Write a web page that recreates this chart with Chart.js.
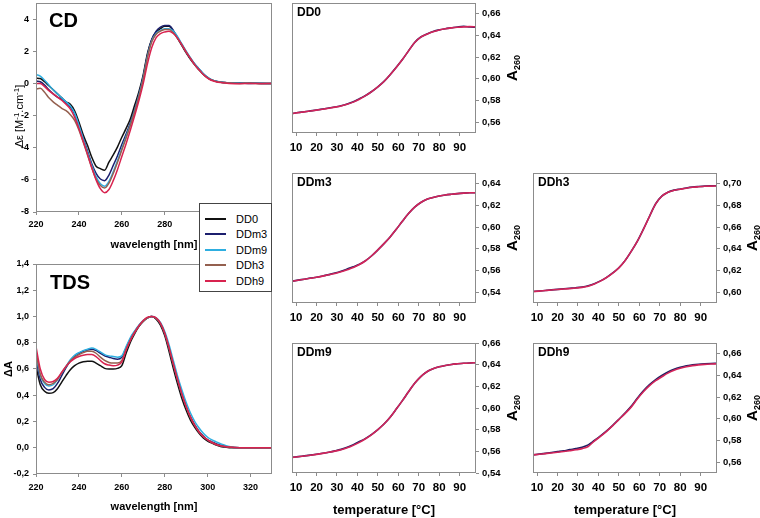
<!DOCTYPE html>
<html>
<head>
<meta charset="utf-8">
<script src="https://cdn.jsdelivr.net/npm/chart.js@4.4.1/dist/chart.umd.min.js"></script>
<style>
  body { margin: 0; background: #fff; }
  #fig { position: relative; width: 760px; height: 518px; overflow: hidden; font-family: "Liberation Sans", Arial, sans-serif; color: #000; }
  #fig canvas { position: absolute; }
  .vlab { position: absolute; transform: translate(-50%, -50%) rotate(-90deg); white-space: nowrap; color: #000; }
  .vlab sup { font-size: 8px; vertical-align: 4px; }
  .a260 { font-weight: bold; font-size: 15px; }
  .a260 sub { font-size: 9px; vertical-align: -3px; }
  #legend { position: absolute; left: 199px; top: 203px; width: 73px; height: 89px; border: 1px solid #444; background: #fff; padding-top: 7px; box-sizing: border-box; }
  #legend .row { height: 15.5px; display: flex; align-items: center; font-size: 11px; color: #000; }
  #legend .ln { width: 21px; height: 2px; margin: 0 10px 0 5px; }
</style>
</head>
<body>
<div id="fig">
  <canvas id="cd" style="left:0;top:0" width="276" height="252"></canvas>
  <canvas id="tds" style="left:0;top:252px" width="276" height="266"></canvas>
  <canvas id="mDD0" style="left:284px;top:0" width="236" height="155"></canvas>
  <canvas id="mDDm3" style="left:284px;top:165px" width="236" height="160"></canvas>
  <canvas id="mDDm9" style="left:284px;top:335px" width="236" height="183"></canvas>
  <canvas id="mDDh3" style="left:525px;top:165px" width="235" height="160"></canvas>
  <canvas id="mDDh9" style="left:525px;top:335px" width="235" height="183"></canvas>

  <div class="vlab" style="left:18px;top:116px;font-size:11px">Δε [M<sup>-1</sup>.cm<sup>-1</sup>]</div>
  <div class="vlab" style="left:8px;top:369px;font-size:11px;font-weight:bold">ΔA</div>
  <div class="vlab a260" style="left:512px;top:68px">A<sub>260</sub></div>
  <div class="vlab a260" style="left:512px;top:238px">A<sub>260</sub></div>
  <div class="vlab a260" style="left:512px;top:408px">A<sub>260</sub></div>
  <div class="vlab a260" style="left:752px;top:238px">A<sub>260</sub></div>
  <div class="vlab a260" style="left:752px;top:408px">A<sub>260</sub></div>

  <div id="legend"></div>
</div>

<script>
// ---- data ----
const seriesNames = ["DD0", "DDm3", "DDm9", "DDh3", "DDh9"];
const seriesColors = ["#111111", "#1c1f6e", "#2eaee0", "#94604f", "#d8234f"];

const wavelength = [
  220,222,224,226,228,230,232,234,236,238,
  240,242,244,246,248,250,252,254,256,258,
  260,262,264,266,268,270,272,274,276,278,
  280,282,284,286,288,290,292,294,296,298,
  300,302,304,306,308,310,315,320,325,330
];

// CD spectra, delta epsilon
const cdDD0 = [
  0.33,0.30,0.10,-0.15,-0.40,-0.65,-0.90,-1.15,-1.30,-1.70,
  -2.40,-3.20,-3.85,-4.60,-5.15,-5.30,-5.40,-4.90,-4.45,-3.95,
  -3.35,-2.80,-2.20,-1.35,-0.50,0.55,1.90,2.75,3.20,3.40,
  3.55,3.55,3.25,2.80,2.35,1.90,1.50,1.15,0.85,0.55,
  0.35,0.20,0.12,0.07,0.05,0.02,0.01,0.02,-0.01,0.00
];
const cdDDm3 = [
  0.15,0.10,-0.10,-0.40,-0.65,-0.85,-1.00,-1.20,-1.45,-1.90,
  -2.60,-3.40,-4.20,-5.00,-5.60,-5.95,-6.05,-5.70,-5.10,-4.50,
  -3.80,-3.15,-2.45,-1.60,-0.65,0.45,1.80,2.75,3.25,3.50,
  3.60,3.60,3.30,2.85,2.40,1.95,1.55,1.20,0.90,0.60,
  0.38,0.22,0.14,0.08,0.05,0.03,0.02,0.00,0.01,-0.01
];
const cdDDm9 = [
  0.55,0.45,0.20,-0.10,-0.40,-0.65,-0.90,-1.15,-1.40,-1.85,
  -2.60,-3.45,-4.30,-5.10,-5.80,-6.25,-6.40,-6.10,-5.50,-4.80,
  -4.05,-3.30,-2.55,-1.70,-0.75,0.35,1.70,2.65,3.10,3.30,
  3.40,3.40,3.25,2.90,2.45,2.00,1.60,1.20,0.90,0.60,
  0.38,0.22,0.13,0.08,0.04,0.02,0.01,0.01,0.00,0.00
];
const cdDDh3 = [
  -0.35,-0.30,-0.55,-0.90,-1.15,-1.35,-1.55,-1.70,-1.95,-2.30,
  -2.90,-3.65,-4.45,-5.25,-5.95,-6.35,-6.50,-6.20,-5.60,-4.90,
  -4.15,-3.40,-2.60,-1.75,-0.80,0.30,1.65,2.60,3.05,3.25,
  3.35,3.35,3.15,2.80,2.40,1.95,1.55,1.15,0.85,0.55,
  0.35,0.20,0.12,0.07,0.04,0.02,0.00,0.01,-0.01,0.00
];
const cdDDh9 = [
  0.00,0.00,-0.20,-0.45,-0.65,-0.85,-1.05,-1.30,-1.60,-2.10,
  -2.80,-3.60,-4.40,-5.25,-6.00,-6.55,-6.80,-6.60,-6.05,-5.35,
  -4.55,-3.75,-2.90,-2.00,-1.05,0.00,1.25,2.25,2.85,3.10,
  3.20,3.25,3.10,2.80,2.40,1.95,1.55,1.15,0.85,0.55,
  0.33,0.18,0.10,0.05,0.02,0.00,-0.02,0.00,-0.02,-0.01
];

// TDS, normalized delta A
const tdsDD0 = [
  0.62,0.48,0.43,0.415,0.42,0.45,0.50,0.55,0.595,0.625,
  0.645,0.655,0.66,0.66,0.645,0.625,0.605,0.60,0.60,0.605,
  0.625,0.72,0.805,0.87,0.925,0.965,0.99,1.00,0.98,0.935,
  0.855,0.735,0.605,0.485,0.375,0.285,0.21,0.155,0.11,0.075,
  0.05,0.035,0.02,0.01,0.005,0.00,0.00,0.00,0.00,0.00
];
const tdsDDm3 = [
  0.68,0.52,0.46,0.44,0.45,0.49,0.55,0.61,0.66,0.70,
  0.72,0.735,0.745,0.75,0.74,0.72,0.70,0.69,0.68,0.675,
  0.69,0.76,0.83,0.885,0.93,0.965,0.99,1.00,0.985,0.945,
  0.87,0.76,0.635,0.515,0.405,0.315,0.235,0.175,0.125,0.09,
  0.06,0.045,0.03,0.02,0.01,0.005,0.00,0.00,0.00,0.00
];
const tdsDDm9 = [
  0.71,0.55,0.49,0.47,0.48,0.52,0.57,0.62,0.67,0.705,
  0.725,0.74,0.75,0.76,0.75,0.73,0.71,0.70,0.695,0.69,
  0.70,0.77,0.84,0.89,0.935,0.97,0.99,1.00,0.99,0.955,
  0.885,0.785,0.665,0.545,0.44,0.345,0.265,0.20,0.15,0.11,
  0.08,0.06,0.045,0.03,0.02,0.01,0.00,0.00,0.00,0.00
];
const tdsDDh3 = [
  0.73,0.56,0.50,0.48,0.49,0.52,0.57,0.62,0.66,0.69,
  0.71,0.725,0.735,0.735,0.72,0.69,0.665,0.65,0.645,0.645,
  0.665,0.75,0.82,0.88,0.93,0.965,0.99,1.00,0.985,0.945,
  0.87,0.76,0.635,0.515,0.405,0.31,0.23,0.17,0.12,0.085,
  0.06,0.04,0.025,0.015,0.01,0.005,0.00,0.00,0.00,0.00
];
const tdsDDh9 = [
  0.77,0.60,0.52,0.50,0.505,0.53,0.575,0.62,0.655,0.68,
  0.695,0.705,0.71,0.71,0.695,0.665,0.64,0.63,0.625,0.63,
  0.655,0.745,0.82,0.88,0.93,0.97,0.995,1.00,0.99,0.95,
  0.875,0.765,0.64,0.52,0.41,0.315,0.235,0.17,0.12,0.085,
  0.06,0.04,0.025,0.015,0.01,0.005,0.00,0.00,0.00,0.00
];

// melting curves, A260 vs temperature
const temperature = [
  8,11,14,17,20,23,26,29,32,35,
  38,41,44,47,50,53,56,59,62,65,
  68,71,74,77,80,83,86,89,92,95,
  98
];
const meltDD0Blue = [
  .5680,.5689,.5696,.5704,.5712,.5721,.5730,.5740,.5751,.5767,
  .5788,.5817,.5846,.5883,.5926,.5976,.6038,.6106,.6178,.6258,
  .6336,.6386,.6413,.6436,.6452,.6463,.6471,.6479,.6484,.6478,
  .6476
];
const meltDD0Red = [
  .5680,.5688,.5695,.5703,.5711,.5720,.5729,.5739,.5750,.5765,
  .5785,.5812,.5845,.5882,.5925,.5975,.6038,.6105,.6178,.6258,
  .6335,.6385,.6412,.6434,.6450,.6462,.6470,.6476,.6480,.6482,
  .6480
];
const meltDDm3Blue = [
  .5501,.5511,.5520,.5530,.5538,.5549,.5562,.5576,.5593,.5614,
  .5634,.5658,.5691,.5736,.5790,.5848,.5910,.5980,.6055,.6126,
  .6185,.6228,.6257,.6274,.6287,.6297,.6304,.6310,.6314,.6317,
  .6318
];
const meltDDm3Red = [
  .5501,.5510,.5519,.5528,.5537,.5548,.5560,.5573,.5588,.5607,
  .5628,.5655,.5690,.5736,.5790,.5848,.5910,.5980,.6055,.6126,
  .6185,.6228,.6257,.6274,.6287,.6297,.6304,.6310,.6314,.6317,
  .6318
];
const meltDDm9Blue = [
  .5544,.5551,.5558,.5565,.5573,.5582,.5592,.5604,.5618,.5637,
  .5662,.5690,.5720,.5757,.5801,.5852,.5915,.5990,.6068,.6150,
  .6228,.6290,.6335,.6362,.6380,.6393,.6402,.6408,.6413,.6416,
  .6418
];
const meltDDm9Red = [
  .5544,.5550,.5557,.5564,.5572,.5581,.5591,.5602,.5615,.5632,
  .5655,.5683,.5716,.5755,.5800,.5852,.5915,.5990,.6068,.6150,
  .6228,.6290,.6335,.6362,.6380,.6393,.6402,.6408,.6413,.6416,
  .6418
];
const meltDDh3Blue = [
  .6006,.6011,.6016,.6021,.6026,.6031,.6036,.6041,.6048,.6060,
  .6078,.6104,.6136,.6177,.6225,.6291,.6376,.6469,.6581,.6701,
  .6816,.6886,.6923,.6942,.6952,.6962,.6970,.6975,.6979,.6981,
  .6982
];
const meltDDh3Red = [
  .6006,.6010,.6015,.6020,.6025,.6029,.6033,.6038,.6044,.6055,
  .6075,.6102,.6135,.6176,.6224,.6290,.6375,.6468,.6580,.6700,
  .6815,.6885,.6922,.6940,.6950,.6960,.6968,.6973,.6977,.6979,
  .6980
];
const meltDDh9Blue = [
  .5667,.5674,.5681,.5689,.5697,.5705,.5716,.5725,.5738,.5760,
  .5800,.5842,.5888,.5940,.5996,.6053,.6115,.6190,.6258,.6315,
  .6362,.6400,.6433,.6458,.6476,.6490,.6498,.6504,.6508,.6511,
  .6512
];
const meltDDh9Red = [
  .5667,.5673,.5679,.5685,.5691,.5698,.5706,.5714,.5725,.5745,
  .5795,.5838,.5885,.5937,.5993,.6048,.6108,.6183,.6250,.6306,
  .6352,.6388,.6422,.6448,.6466,.6480,.6491,.6498,.6503,.6506,
  .6508
];

// tick labels
const wavelengthTicks = [220, 240, 260, 280, 300, 320];
const cdTicks = [-8, -6, -4, -2, 0, 2, 4];
const tdsTicks = [-0.2, 0, 0.2, 0.4, 0.6, 0.8, 1.0, 1.2, 1.4];
const temperatureTicks = [10, 20, 30, 40, 50, 60, 70, 80, 90];
const a260TicksDD0 = [0.56, 0.58, 0.60, 0.62, 0.64, 0.66];
const a260TicksDDm3 = [0.54, 0.56, 0.58, 0.60, 0.62, 0.64];
const a260TicksDDm9 = [0.54, 0.56, 0.58, 0.60, 0.62, 0.64, 0.66];
const a260TicksDDh3 = [0.60, 0.62, 0.64, 0.66, 0.68, 0.70];
const a260TicksDDh9 = [0.56, 0.58, 0.60, 0.62, 0.64, 0.66];

const meltBlue = "#1e1f62";
const meltRed = "#d3245a";

// ---- drawing ----
Chart.defaults.font.family = '"Liberation Sans", Arial, sans-serif';
Chart.defaults.color = "#000";
const FRAME = "#8c8c8c";
const FONT = '"Liberation Sans", Arial, sans-serif';

// box around the plot area + panel label
const framePlugin = {
  id: "frame",
  afterDatasetsDraw(chart, args, opts) {
    const { ctx, chartArea: a } = chart;
    ctx.save();
    ctx.strokeStyle = FRAME;
    ctx.lineWidth = 1;
    ctx.strokeRect(Math.round(a.left) + 0.5, Math.round(a.top) + 0.5,
      Math.round(a.right - a.left) - 1, Math.round(a.bottom - a.top) - 1);
    if (opts.text) {
      ctx.fillStyle = "#000";
      ctx.font = opts.font;
      ctx.textBaseline = "middle";
      ctx.fillText(opts.text, a.left + opts.dx, a.top + opts.dy);
    }
    ctx.restore();
  }
};

const pts = (xs, ys) => xs.map((x, i) => ({ x: x, y: ys[i] }));
const comma = (v, d) => v.toFixed(d).replace(".", ",");

function panel(id, o) {
  const n = o.series.length;
  new Chart(document.getElementById(id), {
    type: "line",
    data: {
      // last series ends up on top
      datasets: o.series.map((s, i) => ({
        data: pts(o.x, s.values),
        borderColor: s.color,
        borderWidth: o.lw,
        pointRadius: 0,
        cubicInterpolationMode: "monotone",
        fill: false,
        order: n - i
      }))
    },
    options: {
      responsive: false,
      animation: false,
      events: [],
      layout: { padding: o.pad },
      plugins: { legend: { display: false }, tooltip: { enabled: false }, frame: o.frame },
      scales: {
        x: {
          type: "linear",
          min: o.xMin,
          max: o.xMax,
          afterBuildTicks: s => { s.ticks = o.xTicks.map(v => ({ value: v })); },
          afterFit: s => { s.height = o.xH; s.paddingLeft = 0; s.paddingRight = 0; },
          grid: { drawOnChartArea: false, tickLength: 3, color: FRAME },
          border: { display: false },
          ticks: { autoSkip: false, maxRotation: 0, padding: o.xPad,
                   font: { size: o.xFont, weight: "bold" }, callback: v => String(v) },
          title: o.xTitle
            ? { display: true, text: o.xTitle, font: { size: o.xTitleSize, weight: "bold" },
                padding: { top: 0, bottom: o.xTitlePad } }
            : { display: false }
        },
        y: {
          type: "linear",
          position: o.yPos,
          min: o.yMin,
          max: o.yMax,
          afterBuildTicks: s => { s.ticks = o.yTicks.map(v => ({ value: v })); },
          afterFit: s => { s.width = o.yW; s.paddingTop = 0; s.paddingBottom = 0; },
          grid: { drawOnChartArea: false, tickLength: 3, color: FRAME },
          border: { display: false },
          ticks: { autoSkip: false, padding: o.yPad, font: { size: o.yFont, weight: "bold" },
                   callback: v => comma(v, o.yDec) }
        }
      }
    },
    plugins: [framePlugin]
  });
}

const cdSeries = [cdDD0, cdDDm3, cdDDm9, cdDDh3, cdDDh9]
  .map((v, i) => ({ values: v, color: seriesColors[i] }));
const tdsSeries = [tdsDD0, tdsDDm3, tdsDDm9, tdsDDh3, tdsDDh9]
  .map((v, i) => ({ values: v, color: seriesColors[i] }));

panel("cd", {
  x: wavelength, series: cdSeries, lw: 1.5,
  pad: { left: 0, top: 3, right: 4, bottom: 0 },
  xMin: 220, xMax: 330, xTicks: wavelengthTicks, xH: 40, xPad: 4, xFont: 9,
  xTitle: "wavelength [nm]", xTitleSize: 11, xTitlePad: 0.4,
  yPos: "left", yMin: -8, yMax: 5, yTicks: cdTicks, yW: 36, yPad: 4, yFont: 9, yDec: 0,
  frame: { text: "CD", font: "bold 20px " + FONT, dx: 13, dy: 18 }
});

panel("tds", {
  x: wavelength, series: tdsSeries, lw: 1.5,
  pad: { left: 0, top: 12, right: 4, bottom: 0 },
  xMin: 220, xMax: 330, xTicks: wavelengthTicks, xH: 44, xPad: 5, xFont: 9,
  xTitle: "wavelength [nm]", xTitleSize: 11, xTitlePad: 4.4,
  yPos: "left", yMin: -0.2, yMax: 1.4, yTicks: tdsTicks, yW: 36, yPad: 4, yFont: 9, yDec: 1,
  frame: { text: "TDS", font: "bold 20px " + FONT, dx: 14, dy: 19 }
});

function melt(id, axisW, blue, red, yMin, yMax, yTicks, top, xH, withTitle, label) {
  panel(id, {
    x: temperature,
    series: [{ values: blue, color: meltBlue }, { values: red, color: meltRed }],
    lw: 1.6,
    pad: { left: 8, top: top, right: 0, bottom: 0 },
    xMin: 8, xMax: 98, xTicks: temperatureTicks, xH: xH, xPad: 5, xFont: 11.5,
    xTitle: withTitle ? "temperature [°C]" : null, xTitleSize: 13, xTitlePad: 0.2,
    yPos: "right", yMin: yMin, yMax: yMax, yTicks: yTicks, yW: axisW, yPad: 3, yFont: 9.5, yDec: 2,
    frame: { text: label, font: "bold 12px " + FONT, dx: 5, dy: 10 }
  });
}

melt("mDD0", 44, meltDD0Blue, meltDD0Red, 0.55, 0.67, a260TicksDD0, 3, 22, false, "DD0");
melt("mDDm3", 44, meltDDm3Blue, meltDDm3Red, 0.53, 0.65, a260TicksDDm3, 8, 22, false, "DDm3");
melt("mDDm9", 44, meltDDm9Blue, meltDDm9Red, 0.54, 0.66, a260TicksDDm9, 8, 45, true, "DDm9");
melt("mDDh3", 43, meltDDh3Blue, meltDDh3Red, 0.59, 0.71, a260TicksDDh3, 8, 22, false, "DDh3");
melt("mDDh9", 43, meltDDh9Blue, meltDDh9Red, 0.55, 0.67, a260TicksDDh9, 8, 45, true, "DDh9");

// legend built from the series names and colours
const legend = document.getElementById("legend");
seriesNames.forEach((name, i) => {
  const row = document.createElement("div");
  row.className = "row";
  row.innerHTML = '<span class="ln" style="background:' + seriesColors[i] + '"></span>' + name;
  legend.appendChild(row);
});
</script>
</body>
</html>
